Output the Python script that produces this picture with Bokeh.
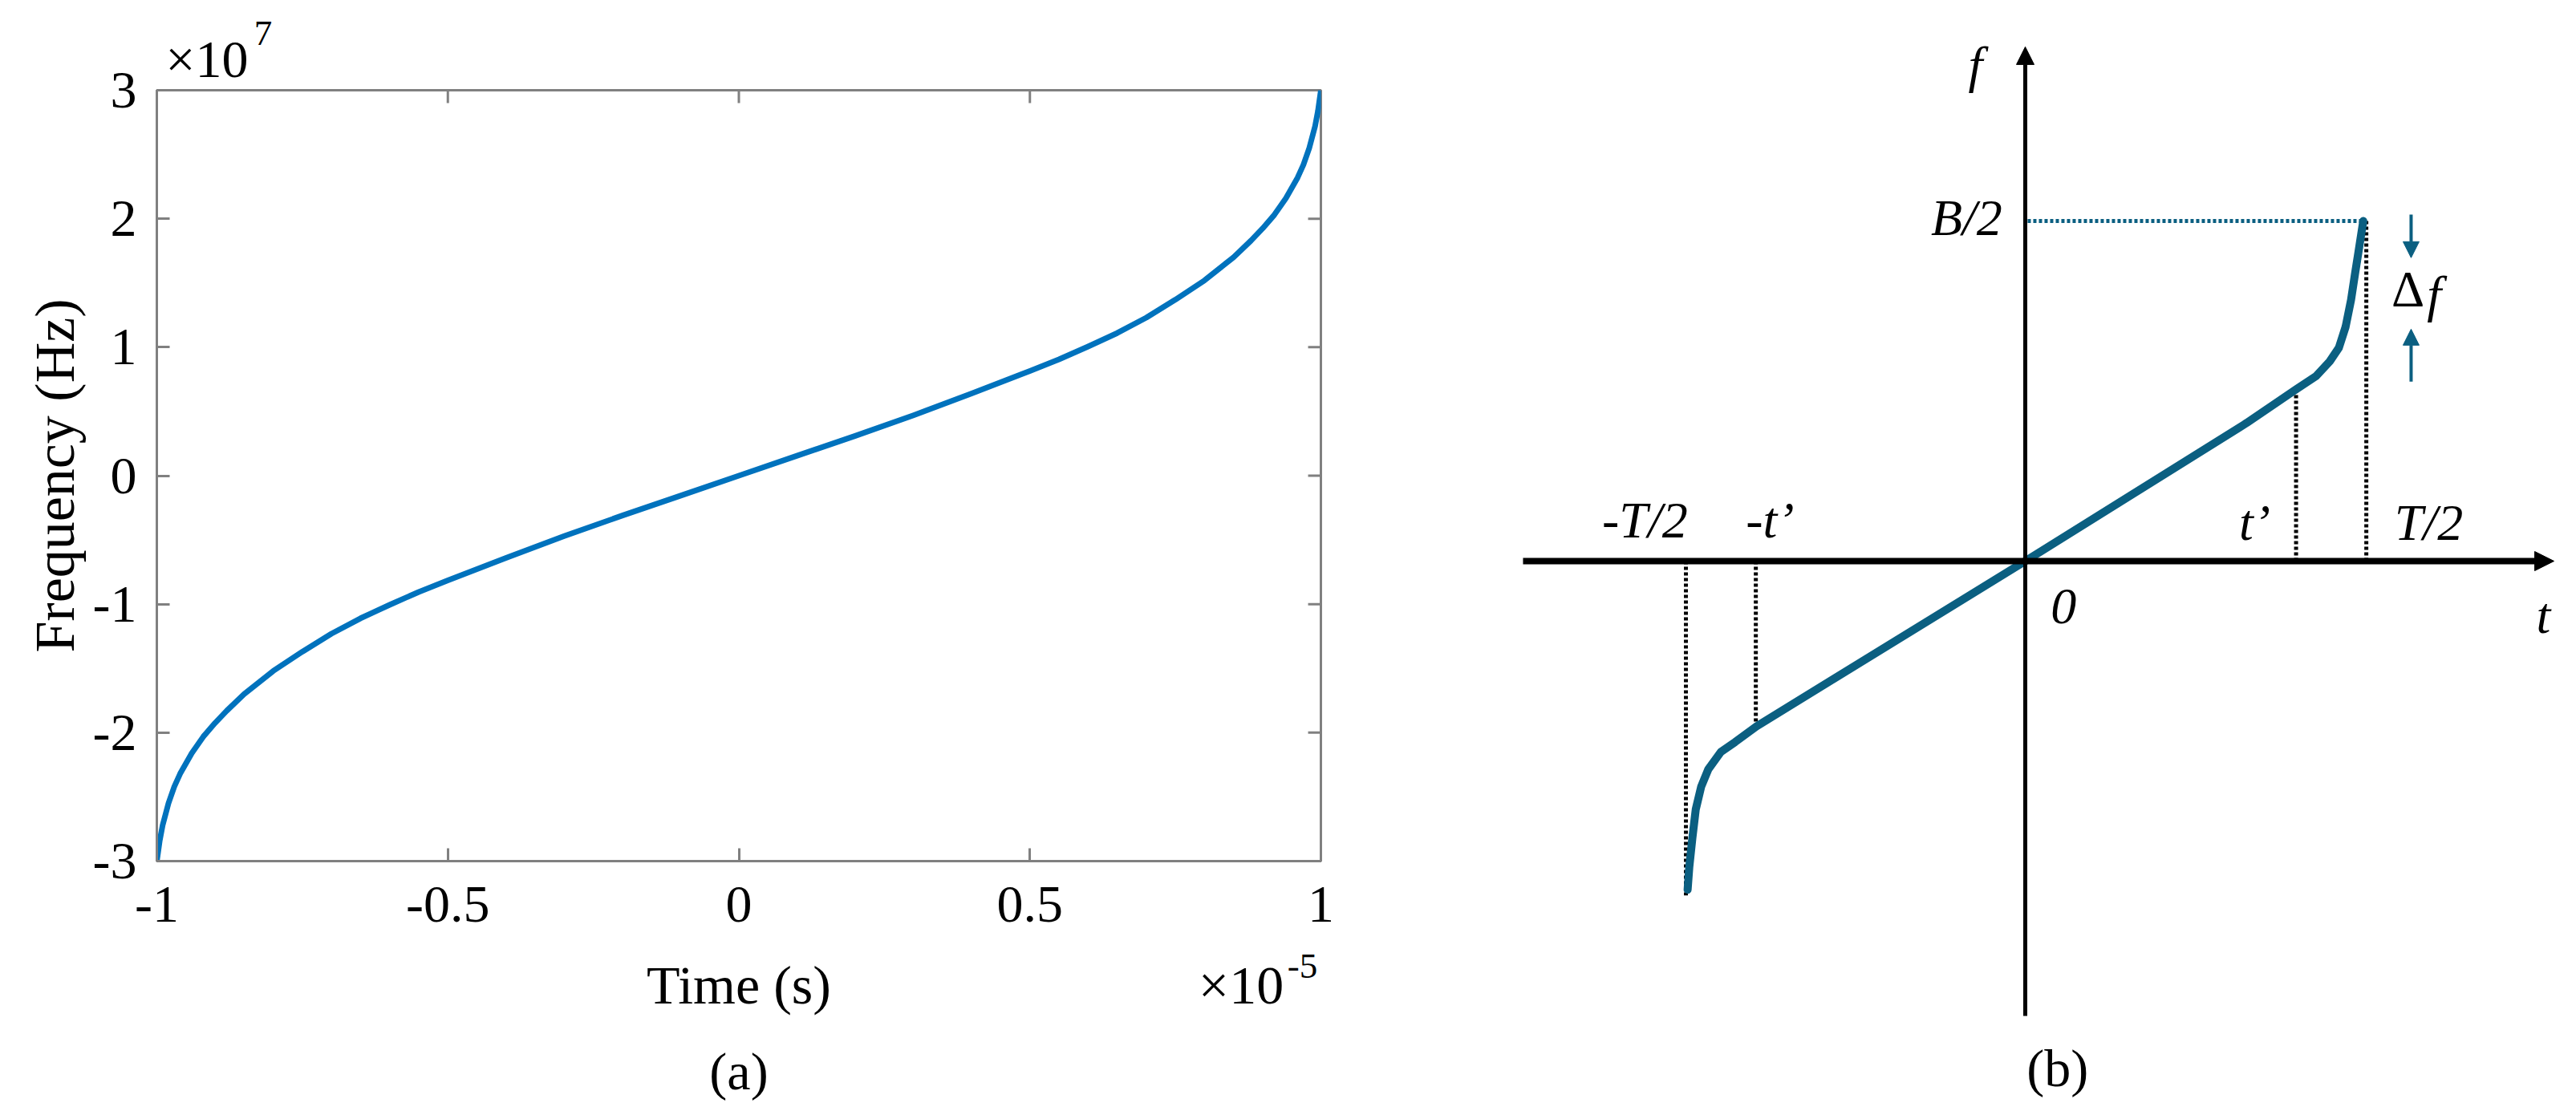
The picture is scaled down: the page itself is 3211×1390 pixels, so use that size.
from bokeh.plotting import figure
from bokeh.models import (LinearAxis, FixedTicker, Arrow, NormalHead,
                          Range1d, ColumnDataSource)
from bokeh.layouts import row, column
from bokeh.embed import file_html
from bokeh.resources import INLINE
from bokeh.core.properties import value

SERIF = "Liberation Serif"

# ---------------- panel (a) data : time in units of 1e-5 s, frequency in units of 1e7 Hz
time_e5 = [-1.0, -0.9975, -0.995, -0.99, -0.98, -0.97, -0.96, -0.94, -0.92, -0.90,
           -0.88, -0.85, -0.80, -0.75, -0.70, -0.65, -0.60, -0.55, -0.50, -0.40,
           -0.30, -0.20, -0.10, 0.0, 0.10, 0.20, 0.30, 0.40, 0.50, 0.55, 0.60,
           0.65, 0.70, 0.75, 0.80, 0.85, 0.88, 0.90, 0.92, 0.94, 0.96, 0.97,
           0.98, 0.99, 0.995, 0.9975, 1.0]
freq_e7 = [-3.0, -2.92, -2.84, -2.72, -2.55, -2.42, -2.32, -2.16, -2.03, -1.925,
           -1.83, -1.70, -1.52, -1.37, -1.23, -1.11, -1.005, -0.905, -0.815, -0.64,
           -0.47, -0.31, -0.155, 0.0, 0.155, 0.31, 0.47, 0.64, 0.815, 0.905, 1.005,
           1.11, 1.23, 1.37, 1.52, 1.70, 1.83, 1.925, 2.03, 2.16, 2.32, 2.42,
           2.55, 2.72, 2.84, 2.92, 3.0]
x_ticks = [-1, -0.5, 0, 0.5, 1]
x_tick_labels = ["-1", "-0.5", "0", "0.5", "1"]
y_ticks = [-3, -2, -1, 0, 1, 2, 3]
y_tick_labels = ["-3", "-2", "-1", "0", "1", "2", "3"]
x_label = "Time (s)"
y_label = "Frequency (Hz)"
mult_base = "\u00d710"
x_exp, y_exp = "-5", "7"
x_base_at, x_exp_at = 0.8629, 0.9683
y_base_at, y_exp_at = -0.9139, -0.8174
panel_a = "(a)"

# ---------------- panel (b) schematic data (normalised: T/2 = 1, B/2 = 1)
curve_t = [-0.995, -0.990, -0.981, -0.971, -0.955, -0.934, -0.897, -0.855, -0.792,
           0.0, 0.652, 0.798, 0.857, 0.897, 0.924, 0.944, 0.960, 0.972, 0.982, 0.996]
curve_f = [-0.966, -0.899, -0.814, -0.730, -0.663, -0.612, -0.561, -0.532, -0.486,
           0.0, 0.406, 0.505, 0.544, 0.587, 0.627, 0.689, 0.768, 0.847, 0.910, 1.0]
half_T = 1.005
t_prime = 0.798
neg_half_T = -1.0
neg_t_prime = -0.794
half_B = 1.0
low_end = -0.983
low_tprime = -0.486
up_tprime = 0.505
t_axis = [-1.480, 1.558]
f_axis = [-1.337, 1.512]
df_x = 1.137
df_top = [1.019, 0.892]
df_bot = [0.528, 0.682]
b_labels = ["f", "B/2", "-T/2", "-t\u2019", "t\u2019", "T/2", "0", "t", "f"]
b_label_x = [-0.147, -0.173, -1.121, -0.752, 0.676, 1.189, 0.113, 1.527, 1.205]
b_label_y = [1.460, 1.009, 0.120, 0.120, 0.113, 0.113, -0.134, -0.160, 0.785]
delta_label = "\u0394"
delta_x, delta_y = 1.128, 0.800
panel_b = "(b)"
panel_b_x, panel_b_y = 0.095, -1.491

GRAY = "#808080"
BLUE = "#0072BD"
TEAL = "#0b5f81"

# ================= panel (a)
p1 = figure(width=1850, height=1385, x_range=Range1d(-1, 1), y_range=Range1d(-3, 3),
            toolbar_location=None, output_backend="svg",
            min_border_left=195, min_border_right=204,
            min_border_top=112, min_border_bottom=312)
p1.xgrid.visible = False
p1.ygrid.visible = False
p1.outline_line_color = GRAY
p1.outline_line_width = 3

def style_axis(ax, size="66px"):
    ax.axis_line_color = GRAY
    ax.axis_line_width = 3
    ax.major_tick_in = 16
    ax.major_tick_out = 0
    ax.major_tick_line_color = GRAY
    ax.major_tick_line_width = 3
    ax.minor_tick_line_color = None
    ax.major_label_text_font = SERIF
    ax.major_label_text_font_size = size
    ax.major_label_text_color = "black"
    ax.axis_label_text_font = SERIF
    ax.axis_label_text_font_size = "70px"
    ax.axis_label_text_font_style = "normal"
    ax.axis_label_text_color = "black"

def text_only(ax):
    ax.axis_line_color = None
    ax.major_tick_line_color = None
    ax.minor_tick_line_color = None

bx = p1.xaxis[0]
style_axis(bx)
bx.ticker = FixedTicker(ticks=x_ticks)
bx.major_label_overrides = dict(zip(x_ticks, x_tick_labels))
bx.major_label_standoff = 32

ly = p1.yaxis[0]
style_axis(ly)
ly.ticker = FixedTicker(ticks=y_ticks)
ly.major_label_overrides = dict(zip(y_ticks, y_tick_labels))
ly.major_label_standoff = 25
ly.axis_label = y_label
ly.axis_label_standoff = 6

# row below the tick labels: x label and the exponent base
bx2 = LinearAxis(ticker=FixedTicker(ticks=[0, x_base_at]),
                 major_label_overrides={0: x_label, x_base_at: mult_base})
style_axis(bx2, size="68px")
text_only(bx2)
bx2.major_label_standoff = 38
p1.add_layout(bx2, "below")

# exponent superscript, then the panel tag
bx3 = LinearAxis(ticker=FixedTicker(ticks=[x_exp_at]),
                 major_label_overrides={x_exp_at: x_exp})
style_axis(bx3, size="45px")
text_only(bx3)
bx3.major_label_standoff = -79
bx3.axis_label = panel_a
bx3.axis_label_standoff = 77
bx3.axis_label_text_font_size = "66px"
p1.add_layout(bx3, "below")

# exponent above the box
tx = LinearAxis(ticker=FixedTicker(ticks=[y_base_at]),
                major_label_overrides={y_base_at: mult_base})
style_axis(tx)
text_only(tx)
tx.major_label_standoff = 3
p1.add_layout(tx, "above")
tx2 = LinearAxis(ticker=FixedTicker(ticks=[y_exp_at]),
                 major_label_overrides={y_exp_at: y_exp})
style_axis(tx2, size="45px")
text_only(tx2)
tx2.major_label_standoff = -22
p1.add_layout(tx2, "above")

# inward ticks on the top and right edges of the box
top = y_ticks[-1]
right = x_ticks[-1]
p1.segment(x0=x_ticks, y0=[top] * len(x_ticks), x1=x_ticks,
           y1=[top - 0.1] * len(x_ticks), line_color=GRAY, line_width=3)
p1.segment(x0=[right] * len(y_ticks), y0=y_ticks, x1=[right - 0.022] * len(y_ticks),
           y1=y_ticks, line_color=GRAY, line_width=3)

p1.line(time_e5, freq_e7, line_color=BLUE, line_width=7, line_join="round")

# ================= panel (b)
p2 = figure(width=1355, height=1385, x_range=Range1d(-1.5934, 1.6099),
            y_range=Range1d(-1.6179, 1.6486), toolbar_location=None,
            output_backend="svg", x_axis_location=None, y_axis_location=None,
            min_border=0)
p2.xgrid.visible = False
p2.ygrid.visible = False
p2.outline_line_color = None

p2.add_layout(Arrow(end=NormalHead(size=24, fill_color="black", line_color="black"),
                    x_start=t_axis[0], y_start=0, x_end=t_axis[1], y_end=0,
                    line_color="black", line_width=8))
p2.add_layout(Arrow(end=NormalHead(size=22, fill_color="black", line_color="black"),
                    x_start=0, y_start=f_axis[0], x_end=0, y_end=f_axis[1],
                    line_color="black", line_width=5))

p2.segment(x0=[neg_half_T, neg_t_prime, t_prime, half_T],
           y0=[0, 0, 0, 0],
           x1=[neg_half_T, neg_t_prime, t_prime, half_T],
           y1=[low_end, low_tprime, up_tprime, half_B],
           line_color="black", line_width=5, line_dash="4 3")
p2.segment(x0=[0.007], y0=[half_B], x1=[curve_t[-1]], y1=[half_B],
           line_color=TEAL, line_width=5, line_dash="4 3")

p2.line(curve_t, curve_f, line_color=TEAL, line_width=10, line_join="round",
        line_cap="round")

p2.add_layout(Arrow(end=NormalHead(size=20, fill_color=TEAL, line_color=TEAL),
                    x_start=df_x, y_start=df_top[0], x_end=df_x, y_end=df_top[1],
                    line_color=TEAL, line_width=4))
p2.add_layout(Arrow(end=NormalHead(size=20, fill_color=TEAL, line_color=TEAL),
                    x_start=df_x, y_start=df_bot[0], x_end=df_x, y_end=df_bot[1],
                    line_color=TEAL, line_width=4))

src = ColumnDataSource(dict(x=b_label_x, y=b_label_y, text=b_labels))
p2.text(x="x", y="y", text="text", source=src, text_font=value(SERIF),
        text_font_style="italic", text_font_size="64px", text_align="center",
        text_baseline="middle", text_color="black")
p2.text(x=[delta_x], y=[delta_y], text=[delta_label], text_font=value(SERIF),
        text_font_size="64px", text_align="center", text_baseline="middle",
        text_color="black")
p2.text(x=[panel_b_x], y=[panel_b_y], text=[panel_b], text_font=value(SERIF),
        text_font_size="66px", text_align="center", text_baseline="middle",
        text_color="black")

layout = row(column(p1), column(p2))
open("out.html", "w").write(file_html(layout, INLINE))
